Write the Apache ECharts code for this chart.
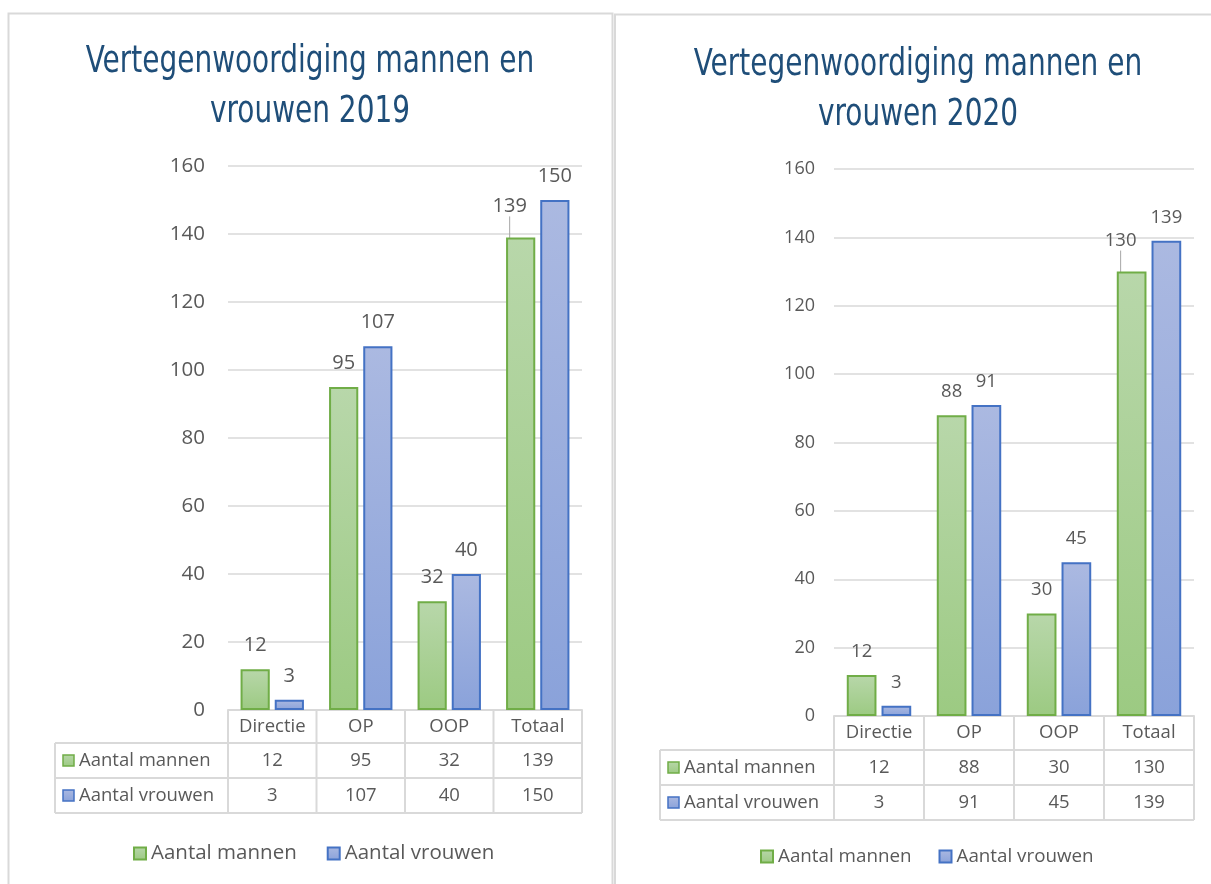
<!DOCTYPE html>
<html>
<head>
<meta charset="utf-8">
<title>Vertegenwoordiging mannen en vrouwen</title>
<script src="https://cdn.jsdelivr.net/npm/echarts@6/dist/echarts.min.js"></script>
<style>
    html, body { margin: 0; padding: 0; background: #fff; }
    #chart { width: 1211px; height: 884px; }
</style>
</head>
<body>
<div id="chart"></div>
<script>
    // data
    const categories = ['Directie', 'OP', 'OOP', 'Totaal']
    const seriesNames = ['Aantal mannen', 'Aantal vrouwen']
    const mannen2019 = [12, 95, 32, 139]
    const vrouwen2019 = [3, 107, 40, 150]
    const mannen2020 = [12, 88, 30, 130]
    const vrouwen2020 = [3, 91, 45, 139]
    const titles = ['Vertegenwoordiging mannen en\nvrouwen 2019', 'Vertegenwoordiging mannen en\nvrouwen 2020']
    const yMin = 0, yMax = 160, yStep = 20

    const TEXT = '#595959', LINE = '#d9d9d9'
    const FONT = '"Open Sans", "Noto Sans", sans-serif'
    const TITLE_FONT = '"Liberation Sans Narrow", "DejaVu Sans Condensed", "Roboto Condensed", sans-serif'

    const greenFill = () => new echarts.graphic.LinearGradient(0, 0, 0, 1, [
        {offset: 0, color: '#b8d7aa'}, {offset: 1, color: '#9cca82'}])
    const blueFill = () => new echarts.graphic.LinearGradient(0, 0, 0, 1, [
        {offset: 0, color: '#abb9e1'}, {offset: 1, color: '#8aa2da'}])
    const GREEN_LINE = '#70ad47', BLUE_LINE = '#4472c4'

    // layout per panel
    const panels = [
        {
            men: mannen2019, women: vrouwen2019, title: titles[0],
            titleX: 310, titleY: 37,
            grid: {left: 228, top: 166, width: 354, height: 544},
            table: {left: 55, headH: 33, rowH: 35},
            axisFont: 20.5, labelFont: 20, cellFont: 18.5, yMargin: 23,
            legend: {left: 128, top: 838, font: 20.5, gap: 30}
        },
        {
            men: mannen2020, women: vrouwen2020, title: titles[1],
            titleX: 918, titleY: 40,
            grid: {left: 834, top: 169, width: 360, height: 547},
            table: {left: 660, headH: 34, rowH: 35},
            axisFont: 18, labelFont: 18.5, cellFont: 18.5, yMargin: 19,
            legend: {left: 755, top: 842, font: 18.8, gap: 27}
        }
    ]

    // titel: smal lettertype nabootsen met horizontale schaal
    function titleGraphic(p) {
        return {
            type: 'text', silent: true,
            x: p.titleX, y: p.titleY,
            scaleX: 0.84,
            style: {
                text: p.title,
                fill: '#1f4e79',
                fontFamily: TITLE_FONT,
                fontSize: 37,
                lineHeight: 50,
                align: 'center',
                verticalAlign: 'top'
            }
        }
    }

    // data table under each chart
    function tableGraphics(p) {
        let g = p.grid, t = p.table
        let cellW = g.width / categories.length
        let top = g.top + g.height
        let right = g.left + g.width
        let r1 = top + t.headH, r2 = r1 + t.rowH, r3 = r2 + t.rowH
        let els = []
        let line = (x1, y1, x2, y2) => els.push({
            type: 'line', silent: true,
            shape: {x1, y1, x2, y2},
            style: {stroke: LINE, lineWidth: 2}
        })
        line(g.left, top, right, top)
        line(t.left, r1, right, r1)
        line(t.left, r2, right, r2)
        line(t.left, r3, right, r3)
        line(t.left, r1, t.left, r3)
        for (let i = 0; i <= categories.length; i++) {
            line(g.left + i * cellW, top, g.left + i * cellW, r3)
        }
        ;[p.men, p.women].forEach((vals, k) => {
            let cy = r1 + t.rowH * k + t.rowH / 2
            els.push({
                type: 'rect', silent: true,
                shape: {x: t.left + 8, y: cy - 5.5, width: 11, height: 11},
                style: {fill: k ? blueFill() : greenFill(), stroke: k ? BLUE_LINE : GREEN_LINE, lineWidth: 1.5}
            })
            els.push({
                type: 'text', silent: true, x: t.left + 24, y: cy,
                style: {text: seriesNames[k], fill: TEXT, fontSize: p.cellFont, fontFamily: FONT, verticalAlign: 'middle'}
            })
            vals.forEach((v, i) => els.push({
                type: 'text', silent: true, x: g.left + (i + 0.5) * cellW, y: cy,
                style: {text: String(v), fill: TEXT, fontSize: p.cellFont, fontFamily: FONT, align: 'center', verticalAlign: 'middle'}
            }))
        })
        return els
    }

    function barSeries(p, idx, name, vals, isMen) {
        return {
            name: name,
            type: 'bar',
            xAxisIndex: idx,
            yAxisIndex: idx,
            barWidth: '33%',
            barGap: '17%',
            // Totaal-label van de mannen is verschoven, met verbindingslijn
            data: vals.map((v, i) => isMen && i === 3 ? {
                value: v,
                labelLine: {show: true, lineStyle: {color: '#a6a6a6', width: 1}}
            } : v),
            itemStyle: {
                color: isMen ? greenFill() : blueFill(),
                borderColor: isMen ? GREEN_LINE : BLUE_LINE,
                borderWidth: 2
            },
            label: {
                show: true,
                position: 'top',
                distance: 14,
                color: TEXT,
                fontSize: p.labelFont,
                fontFamily: FONT
            },
            labelLayout: isMen ? function (params) {
                return params.dataIndex === 3 ? {dx: -11, dy: -7} : {}
            } : undefined
        }
    }

    let option = {
        animation: false,
        legend: panels.map(p => ({
            data: seriesNames,
            left: p.legend.left,
            top: p.legend.top,
            icon: 'rect',
            itemWidth: 12,
            itemHeight: 12,
            itemGap: p.legend.gap,
            selectedMode: false,
            textStyle: {color: TEXT, fontSize: p.legend.font, fontFamily: FONT}
        })),
        grid: panels.map(p => Object.assign({containLabel: false}, p.grid)),
        xAxis: panels.map((p, i) => ({
            type: 'category',
            gridIndex: i,
            data: categories,
            axisLine: {show: true, lineStyle: {color: LINE, width: 2}},
            axisTick: {show: false},
            axisLabel: {
                color: TEXT, fontSize: p.cellFont, fontFamily: FONT,
                margin: p.table.headH / 2, verticalAlign: 'middle', interval: 0
            }
        })),
        yAxis: panels.map((p, i) => ({
            type: 'value',
            gridIndex: i,
            min: yMin,
            max: yMax,
            interval: yStep,
            axisLine: {show: false},
            axisTick: {show: false},
            splitLine: {lineStyle: {color: LINE, width: 1.5}},
            axisLabel: {color: TEXT, fontSize: p.axisFont, fontFamily: FONT, margin: p.yMargin}
        })),
        series: panels.flatMap((p, i) => [
            barSeries(p, i, seriesNames[0], p.men, true),
            barSeries(p, i, seriesNames[1], p.women, false)
        ]),
        graphic: [
            // kaders van de twee grafieken
            {type: 'rect', silent: true, shape: {x: 8.5, y: 13.5, width: 604, height: 900},
                style: {fill: 'none', stroke: LINE, lineWidth: 2}},
            {type: 'rect', silent: true, shape: {x: 615, y: 14.5, width: 620, height: 900},
                style: {fill: 'none', stroke: LINE, lineWidth: 2}},
            ...panels.map(p => titleGraphic(p)),
            ...panels.flatMap(p => tableGraphics(p))
        ]
    }

    let chart = echarts.init(document.getElementById('chart'))
    chart.setOption(option)
</script>
</body>
</html>
